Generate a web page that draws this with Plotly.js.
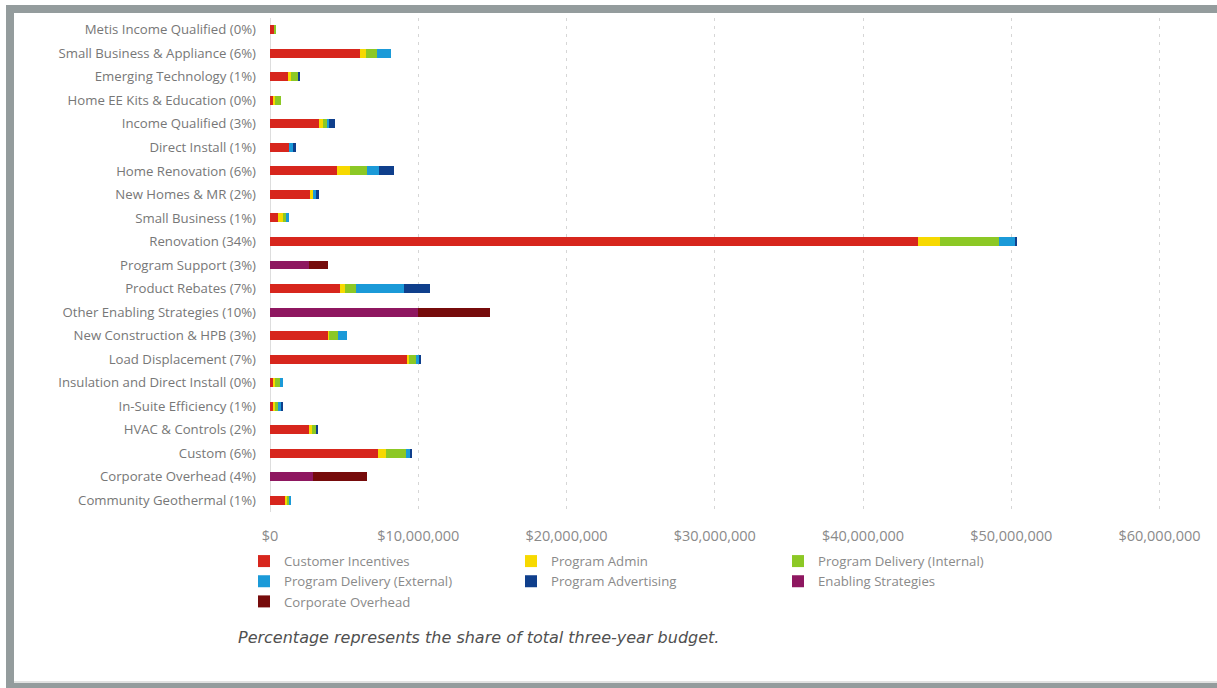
<!DOCTYPE html>
<html>
<head>
<meta charset="utf-8">
<script src="https://cdn.plot.ly/plotly-3.0.1.min.js"></script>
<style>
  html, body { margin: 0; padding: 0; background: #ffffff; }
  #chart { width: 1217px; height: 688px; }
  .frame { position: absolute; background: #949c9d; z-index: 10; }
</style>
</head>
<body>
<div id="chart"></div>
<div class="frame" style="left:6px; top:5px; width:1211px; height:8px;"></div>
<div class="frame" style="left:6px; top:5px; width:8px; height:683px;"></div>
<div class="frame" style="left:6px; top:683px; width:1211px; height:5px;"></div>
<div style="position:absolute; left:14px; top:681px; width:1203px; height:2px; background:#e2e2e2; z-index:9;"></div>
<script>
// Categories, top to bottom as in the reference
const categories = [
  "Metis Income Qualified (0%)",
  "Small Business & Appliance (6%)",
  "Emerging Technology (1%)",
  "Home EE Kits & Education (0%)",
  "Income Qualified (3%)",
  "Direct Install (1%)",
  "Home Renovation (6%)",
  "New Homes & MR (2%)",
  "Small Business (1%)",
  "Renovation (34%)",
  "Program Support (3%)",
  "Product Rebates (7%)",
  "Other Enabling Strategies (10%)",
  "New Construction & HPB (3%)",
  "Load Displacement (7%)",
  "Insulation and Direct Install (0%)",
  "In-Suite Efficiency (1%)",
  "HVAC & Controls (2%)",
  "Custom (6%)",
  "Corporate Overhead (4%)",
  "Community Geothermal (1%)"
];

// Budget values in dollars
const customerIncentives = [300000, 6080000, 1240000, 180000, 3330000, 1280000, 4500000, 2750000, 560000, 43700000, 0, 4720000, 0, 3940000, 9300000, 230000, 230000, 2640000, 7270000, 0, 1010000];
const programAdmin       = [0, 410000, 160000, 160000, 230000, 0, 900000, 130000, 300000, 1500000, 0, 340000, 0, 50000, 50000, 110000, 110000, 170000, 570000, 0, 160000];
const deliveryInternal   = [120000, 720000, 500000, 380000, 350000, 0, 1170000, 0, 200000, 4000000, 0, 740000, 0, 570000, 500000, 340000, 210000, 300000, 1330000, 0, 150000];
const deliveryExternal   = [0, 980000, 0, 0, 100000, 250000, 790000, 200000, 250000, 1100000, 0, 3260000, 0, 610000, 180000, 180000, 200000, 0, 300000, 0, 100000];
const programAdvertising = [0, 0, 80000, 0, 400000, 200000, 970000, 210000, 0, 50000, 0, 1740000, 0, 0, 140000, 0, 110000, 160000, 100000, 0, 0];
const enablingStrategies = [0, 0, 0, 0, 0, 0, 0, 0, 0, 0, 2650000, 0, 10000000, 0, 0, 0, 0, 0, 0, 2880000, 0];
const corporateOverhead  = [0, 0, 0, 0, 0, 0, 0, 0, 0, 0, 1290000, 0, 4850000, 0, 0, 0, 0, 0, 0, 3690000, 0];

const seriesNames = ["Customer Incentives", "Program Admin", "Program Delivery (Internal)",
                     "Program Delivery (External)", "Program Advertising", "Enabling Strategies", "Corporate Overhead"];
const seriesValues = [customerIncentives, programAdmin, deliveryInternal, deliveryExternal,
                      programAdvertising, enablingStrategies, corporateOverhead];
const seriesColors = ["#d7261d", "#f7d900", "#8cc825", "#1b9ad8", "#0f3f8c", "#8e1760", "#760b0b"];
const legendIds   = ["legend", "legend2", "legend3", "legend", "legend2", "legend3", "legend"];

const traces = seriesNames.map((name, i) => ({
  type: "bar",
  orientation: "h",
  name: name,
  y: categories,
  x: seriesValues[i],
  marker: { color: seriesColors[i], line: { width: 0 } },
  width: 0.38,
  legend: legendIds[i],
  hoverinfo: "x+name"
}));

const legendFont = { family: "Open Sans, sans-serif", size: 13.2, color: "#8a8a8a" };
function mkLegend(xpx) {
  return {
    xref: "container", yref: "container",
    x: xpx / 1217, y: 1 - 546 / 688,
    xanchor: "left", yanchor: "top",
    orientation: "v", traceorder: "normal",
    bgcolor: "rgba(0,0,0,0)", borderwidth: 0,
    font: legendFont, itemwidth: 30, tracegroupgap: 0
  };
}

const layout = {
  width: 1217, height: 688, autosize: false,
  paper_bgcolor: "#ffffff", plot_bgcolor: "#ffffff",
  margin: { l: 270, r: 13, t: 18, b: 176, pad: 0, autoexpand: false },
  barmode: "stack",
  showlegend: true,
  font: { family: "Open Sans, sans-serif", color: "#7a7a7a" },
  xaxis: {
    range: [0, 63000000],
    tick0: 0, dtick: 10000000,
    tickformat: ",.0f", tickprefix: "$",
    tickangle: 0,
    showgrid: true, gridcolor: "#d6d6d6", gridwidth: 1, griddash: "3px,5px",
    zeroline: true, zerolinecolor: "#dddddd", zerolinewidth: 1,
    showline: false, ticks: "",
    ticklabelstandoff: 13,
    automargin: false,
    tickfont: { family: "Open Sans, sans-serif", size: 14.5, color: "#8a8a8a" },
    fixedrange: true
  },
  yaxis: {
    type: "category",
    autorange: "reversed",
    automargin: false,
    showgrid: false, zeroline: false, showline: false, ticks: "",
    ticklabelstandoff: 13,
    tickfont: { family: "Open Sans, sans-serif", size: 13.2, color: "#777777" },
    fixedrange: true
  },
  legend: mkLegend(244),
  legend2: mkLegend(511),
  legend3: mkLegend(778),
  annotations: [{
    xref: "paper", yref: "paper",
    x: -0.036, y: -0.255, xanchor: "left", yanchor: "middle",
    text: "<i>Percentage represents the share of total three-year budget.</i>",
    showarrow: false,
    font: { family: "DejaVu Sans, sans-serif", size: 16, color: "#505050" }
  }]
};

Plotly.newPlot("chart", traces, layout, { displayModeBar: false, staticPlot: false });
</script>
</body>
</html>
